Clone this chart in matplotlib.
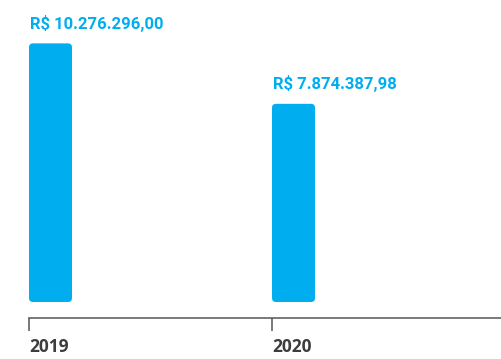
import matplotlib
matplotlib.use('Agg')
from matplotlib import pyplot as plt
from matplotlib.patches import FancyBboxPatch

# chart data
years = ['2019', '2020']
values = [10276296.00, 7874387.98]

BLUE = '#00AEEF'
DARK = '#3d3d3d'
AXIS = '#555555'


def brl(v: float) -> str:
    # 10276296.0 -> 'R$ 10.276.296,00'
    s = f'{v:,.2f}'.replace(',', 'X').replace('.', ',').replace('X', '.')
    return f'R$ {s}'


fig = plt.figure(figsize=(5.01, 3.59), dpi=100)
ax = fig.add_axes([29 / 501, 1 - 302 / 359, 472 / 501, 302 / 359])

x = range(len(years))
bars = ax.bar(x, values, width=43 / 243, align='edge', color=BLUE)
ax.set_xlim(0, 472 / 243)
ax.set_ylim(0, 12e6)

# swap the square bars for rounded ones of the same geometry
px_x = 1 / 243
px_y = 12e6 / 302
for rect in bars:
    rect.set_visible(False)
    rb = FancyBboxPatch((rect.get_x(), rect.get_y()), rect.get_width(), rect.get_height(),
                        boxstyle=f'round,pad=0,rounding_size={4 * px_x}',
                        mutation_aspect=px_y / px_x, fc=BLUE, ec='none')
    ax.add_patch(rb)

for xi, v in zip(x, values):
    ax.annotate(brl(v), (xi, v), xytext=(0.5, 10.5), textcoords='offset points',
                ha='left', va='baseline', color=BLUE, fontsize=12,
                fontweight='bold', family='Roboto')

for side in ['top', 'right', 'left']:
    ax.spines[side].set_visible(False)
ax.spines['bottom'].set_position(('outward', 11.5))
ax.spines['bottom'].set_color(AXIS)
ax.spines['bottom'].set_linewidth(1.1)
ax.set_yticks([])
ax.set_xticks(list(x))
ax.set_xticklabels(years, ha='left', color=DARK, fontsize=12.5,
                   fontweight='bold', family='Open Sans')
ax.tick_params(axis='x', length=9.4, width=1.1, color=AXIS, pad=5)

fig.savefig('out.png', dpi=100)
